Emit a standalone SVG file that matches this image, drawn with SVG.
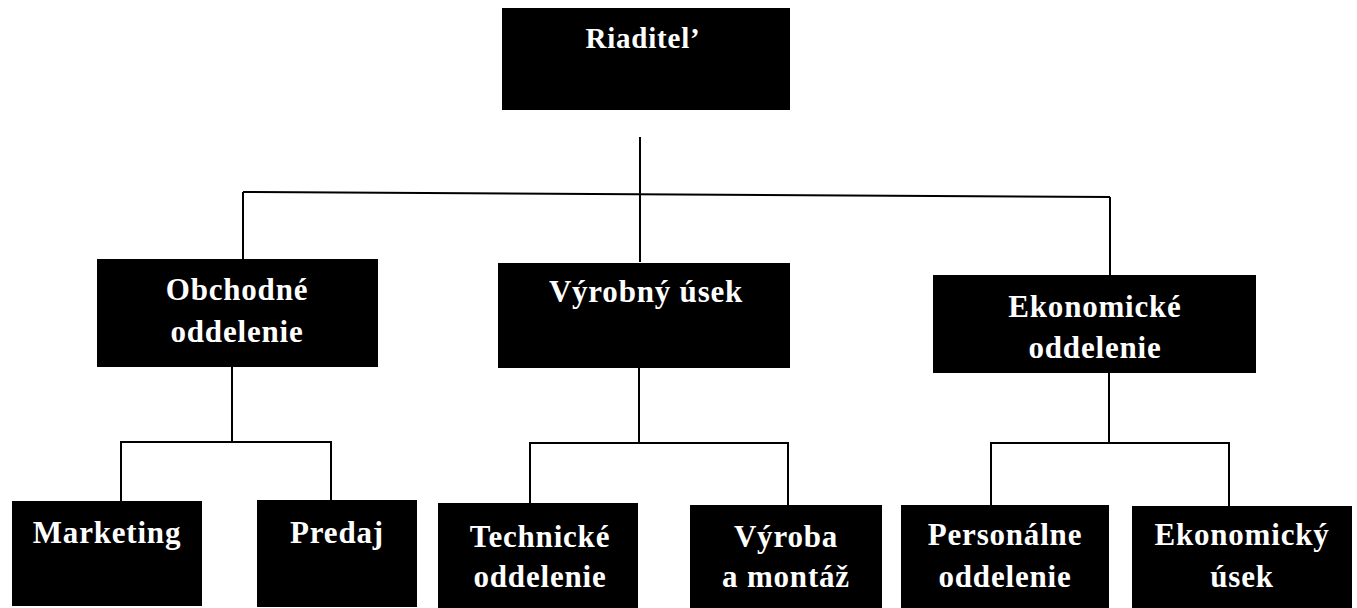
<svg xmlns="http://www.w3.org/2000/svg" width="1357" height="608" viewBox="0 0 1357 608">
<style>
.box{fill:#000;}
.t{fill:#fff;font-family:"Liberation Serif","Times New Roman",serif;font-weight:bold;font-size:31px;text-anchor:middle;letter-spacing:0.8px;}
.c{stroke:#000;stroke-width:2;fill:none;}
</style>
<rect width="1357" height="608" fill="#fff"/>
<g id="connectors">
<line class="c" x1="640" y1="137" x2="640" y2="262"/>
<line class="c" x1="243" y1="192" x2="1110" y2="197"/>
<line class="c" x1="243" y1="192" x2="243" y2="260"/>
<line class="c" x1="1110" y1="197" x2="1110" y2="276"/>
<polyline class="c" points="121,502 121,442 331,442 331,501"/>
<line class="c" x1="232" y1="366" x2="232" y2="442"/>
<polyline class="c" points="530,504 530,443 788,443 788,506"/>
<line class="c" x1="639" y1="367" x2="639" y2="443"/>
<polyline class="c" points="991,506 991,443 1229,443 1229,507"/>
<line class="c" x1="1109" y1="372" x2="1109" y2="443"/>
</g>
<g id="riaditel">
<rect class="box" x="502" y="8" width="288" height="102"/>
<text class="t" x="643" y="48" style="font-size:29px">Riaditel’</text>
</g>
<g id="obchodne">
<rect class="box" x="97" y="259" width="281" height="108"/>
<text class="t" x="237" y="300">Obchodné</text>
<text class="t" x="237" y="342">oddelenie</text>
</g>
<g id="vyrobny">
<rect class="box" x="498" y="263" width="292" height="105"/>
<text class="t" x="646" y="302">Výrobný úsek</text>
</g>
<g id="ekonomicke">
<rect class="box" x="933" y="275" width="323" height="98"/>
<text class="t" x="1095" y="317">Ekonomické</text>
<text class="t" x="1095" y="358">oddelenie</text>
</g>
<g id="marketing">
<rect class="box" x="12" y="501" width="190" height="105"/>
<text class="t" x="107" y="543">Marketing</text>
</g>
<g id="predaj">
<rect class="box" x="257" y="500" width="160" height="107"/>
<text class="t" x="337" y="543">Predaj</text>
</g>
<g id="technicke">
<rect class="box" x="438" y="503" width="200" height="105"/>
<text class="t" x="540" y="547">Technické</text>
<text class="t" x="540" y="587">oddelenie</text>
</g>
<g id="vyroba">
<rect class="box" x="690" y="505" width="192" height="103"/>
<text class="t" x="786" y="547">Výroba</text>
<text class="t" x="786" y="587">a montáž</text>
</g>
<g id="personalne">
<rect class="box" x="901" y="505" width="208" height="103"/>
<text class="t" x="1005" y="545">Personálne</text>
<text class="t" x="1005" y="587">oddelenie</text>
</g>
<g id="ekonomicky">
<rect class="box" x="1132" y="506" width="220" height="102"/>
<text class="t" x="1242" y="545">Ekonomický</text>
<text class="t" x="1242" y="587">úsek</text>
</g>
</svg>
